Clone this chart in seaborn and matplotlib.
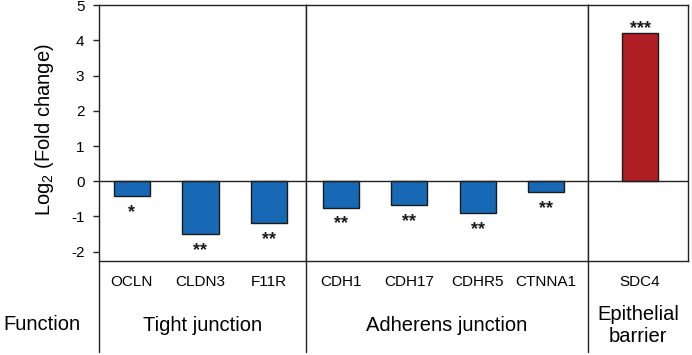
import matplotlib
matplotlib.use("Agg")
import matplotlib.pyplot as plt
import seaborn as sns
import pandas as pd
from matplotlib.lines import Line2D

# ---- data ----
genes = ["OCLN", "CLDN3", "F11R", "CDH1", "CDH17", "CDHR5", "CTNNA1", "SDC4"]
log2_fc = [-0.43, -1.51, -1.18, -0.75, -0.68, -0.90, -0.31, 4.21]
significance = ["*", "**", "**", "**", "**", "**", "**", "***"]
functions = ["Tight junction"] * 3 + ["Adherens junction"] * 4 + ["Epithelial\nbarrier"]
function_order = ["Tight junction", "Adherens junction", "Epithelial\nbarrier"]
y_ticks = [-2, -1, 0, 1, 2, 3, 4, 5]

df = pd.DataFrame({"gene": genes, "value": log2_fc, "sig": significance,
                   "function": functions})
df["direction"] = ["up" if v > 0 else "down" for v in df["value"]]
palette = {"down": "#1769B5", "up": "#B01F24"}

sns.set_theme(style="white")
plt.rcParams["font.family"] = ["Liberation Sans", "DejaVu Sans"]
plt.rcParams["mathtext.fontset"] = "custom"
plt.rcParams["mathtext.rm"] = "Liberation Sans"
plt.rcParams["mathtext.default"] = "regular"
plt.rcParams["axes.unicode_minus"] = False
for k in ["text.color", "axes.labelcolor", "xtick.color", "ytick.color"]:
    plt.rcParams[k] = "black"

line_c = "#222222"
fig = plt.figure(figsize=(6.92, 3.55), dpi=100)
L, R, B, T = 99 / 692, 688 / 692, 1 - 260.7 / 355, 1 - 5.3 / 355
gs = fig.add_gridspec(1, 3, left=L, right=R, bottom=B, top=T, wspace=0,
                      width_ratios=[207, 282, 100])
axes = []
for i in range(3):
    ax = fig.add_subplot(gs[0, i], sharey=axes[0] if axes else None)
    axes.append(ax)

xlims = [(-0.48, 2.54), (-0.51, 3.61), (-0.76, 0.70)]

for ax, func, xl in zip(axes, function_order, xlims):
    sub = df[df["function"] == func]
    sns.barplot(data=sub, x="gene", y="value", hue="direction", palette=palette,
                width=0.53, saturation=1, edgecolor="#1a1a1a", linewidth=1,
                legend=False, ax=ax)
    ax.set_xlim(*xl)
    ax.axhline(0, color=line_c, lw=1, zorder=3)
    for j, (v, s) in enumerate(zip(sub["value"], sub["sig"])):
        off = 3.5 if v > 0 else -11.8
        ax.annotate(s, (j, v), xytext=(0, off), textcoords="offset points",
                    ha="center", va="center", fontsize=13, fontweight="bold",
                    color="#1a1a1a")
    for sp in ax.spines.values():
        sp.set_color(line_c)
        sp.set_linewidth(1)
    ax.set_xlabel("")
    ax.tick_params(axis="x", length=0, pad=10, labelsize=11, colors="black")
    ax.text(0.5, -0.255, func, transform=ax.transAxes, ha="center", va="center",
            fontsize=14.5, color="black")
    ax.add_line(Line2D([0, 0], [0, -0.357], transform=ax.transAxes,
                       color=line_c, lw=1, clip_on=False))
    if ax is not axes[0]:
        ax.tick_params(axis="y", left=False, labelleft=False)
        ax.set_ylabel("")

ax0 = axes[0]
ax0.set_ylim(-2.26, 5)
ax0.set_yticks(y_ticks)
ax0.tick_params(axis="y", left=True, direction="out", length=4, width=1,
                color=line_c, labelsize=11, pad=6.5)
ax0.set_ylabel("Log$_2$ (Fold change)", fontsize=14.5, color="black")
ax0.yaxis.set_label_coords(-0.208, 0.514)

fig.text(3 / 692, 1 - 325 / 355, "Function", ha="left", va="center",
         fontsize=14.5, color="black")

fig.savefig("out.png", dpi=100)
